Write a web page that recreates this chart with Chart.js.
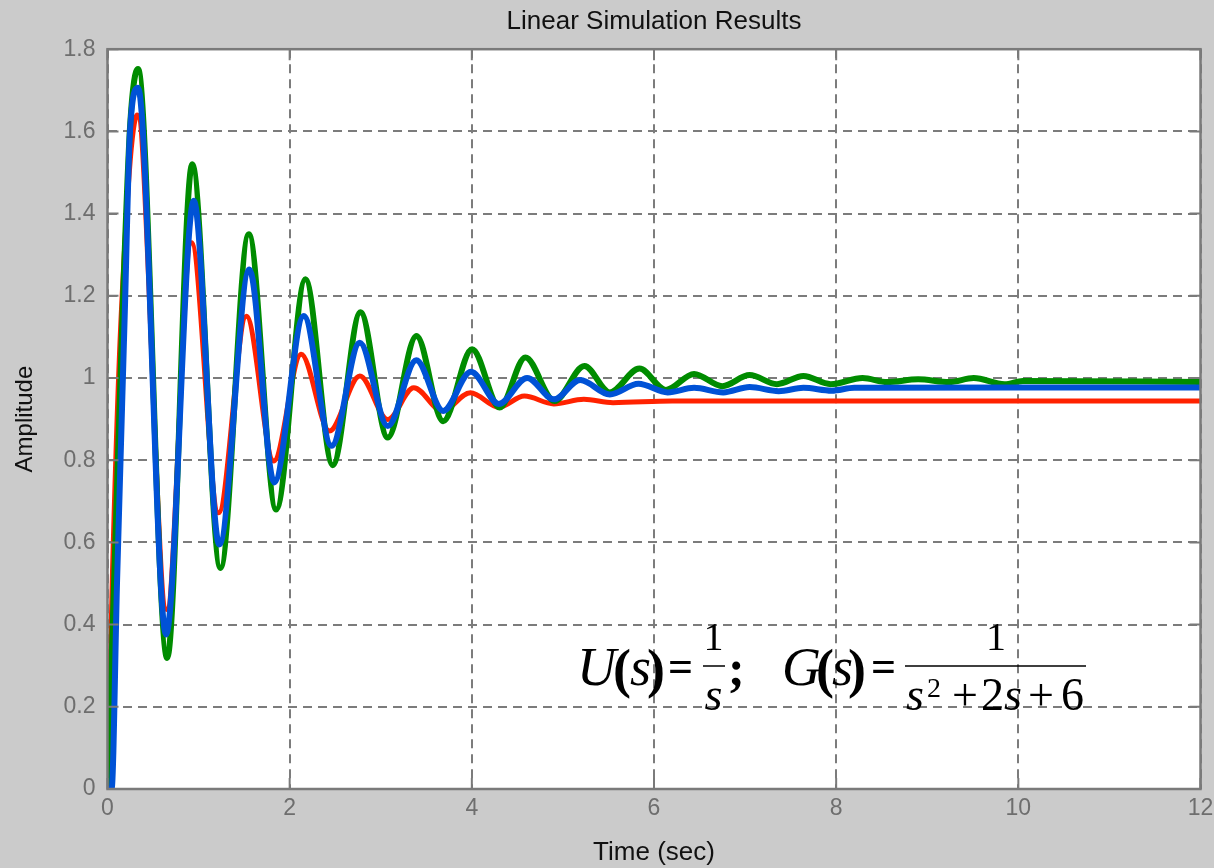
<!DOCTYPE html>
<html><head><meta charset="utf-8">
<script src="https://cdn.jsdelivr.net/npm/chart.js@4.4.1/dist/chart.umd.min.js"></script>
<style>html,body{margin:0;padding:0;background:#cbcbcb;overflow:hidden}</style>
</head><body>
<canvas id="c" width="1214" height="868"></canvas>
<script>
// ---- text ----
const chartTitle = 'Linear Simulation Results';
const xAxisTitle = 'Time (sec)';
const yAxisTitle = 'Amplitude';
const xTickLabels = ['0','2','4','6','8','10','12'];
const yTickLabels = ['0','0.2','0.4','0.6','0.8','1','1.2','1.4','1.6','1.8'];

// ---- series (time in sec, amplitude) ----
const redTime = [0, 0.055, 0.152, 0.327, 0.65, 0.922, 1.22, 1.525, 1.825, 2.126, 2.437, 2.77, 3.077, 3.363, 3.674, 3.985, 4.296, 4.577, 4.9, 5.23, 5.55, 6.2, 8, 10, 12];
const redAmp  = [0, 0.53, 1.16, 1.64, 0.437, 1.329, 0.672, 1.15, 0.798, 1.058, 0.871, 1.005, 0.899, 0.976, 0.92, 0.964, 0.929, 0.956, 0.937, 0.948, 0.940, 0.944, 0.944, 0.944, 0.944];

const greenTime = [0, 0.08, 0.17, 0.25, 0.335, 0.655, 0.93, 1.24, 1.551, 1.852, 2.173, 2.473, 2.777, 3.077, 3.392, 3.685, 4.003, 4.306, 4.588, 4.907, 5.236, 5.514, 5.84, 6.13, 6.44, 6.75, 7.05, 7.35, 7.64, 7.94, 8.29, 8.56, 8.9, 9.24, 9.51, 9.85, 10.05, 12];
const greenAmp  = [0, 0.557, 1.19, 1.62, 1.752, 0.319, 1.52, 0.538, 1.35, 0.68, 1.24, 0.788, 1.16, 0.855, 1.102, 0.895, 1.07, 0.928, 1.05, 0.944, 1.029, 0.965, 1.023, 0.971, 1.01, 0.98, 1.007, 0.985, 1.005, 0.985, 1.0, 0.99, 0.997, 0.99, 1.0, 0.985, 0.993, 0.99];

const blueTime = [0, 0.045, 0.105, 0.19, 0.247, 0.335, 0.643, 0.947, 1.227, 1.558, 1.83, 2.155, 2.46, 2.77, 3.077, 3.39, 3.685, 3.99, 4.296, 4.607, 4.9, 5.19, 5.514, 5.83, 6.15, 6.44, 6.76, 7.05, 7.37, 7.64, 7.95, 8.2, 10, 12];
const blueAmp  = [0, 0, 0.506, 1.16, 1.6, 1.706, 0.376, 1.431, 0.595, 1.264, 0.746, 1.151, 0.835, 1.086, 0.883, 1.043, 0.92, 1.015, 0.937, 1.0, 0.948, 0.995, 0.96, 0.986, 0.965, 0.976, 0.965, 0.978, 0.968, 0.976, 0.969, 0.976, 0.977, 0.977];

const toPts = (t, v) => t.map((x, i) => ({x: x, y: v[i]}));

const GRID = '#7c7c7c';
const FRAME = '#7a7a7a';

const decor = {
  id: 'decor',
  beforeDraw(chart) {
    const {ctx, chartArea: a} = chart;
    ctx.save();
    ctx.fillStyle = '#cbcbcb';
    ctx.fillRect(0, 0, chart.width, chart.height);
    ctx.fillStyle = '#ffffff';
    ctx.fillRect(a.left, a.top, a.right - a.left, a.bottom - a.top);
    ctx.restore();
  },
  afterDatasetsDraw(chart) {
    const {ctx, chartArea: a, scales} = chart;
    ctx.save();
    ctx.strokeStyle = FRAME;
    ctx.lineWidth = 2;
    ctx.beginPath();
    const L = 11;
    scales.x.ticks.forEach(t => {
      const px = scales.x.getPixelForValue(t.value);
      ctx.moveTo(px, a.top); ctx.lineTo(px, a.top + L);
      ctx.moveTo(px, a.bottom); ctx.lineTo(px, a.bottom - L);
    });
    scales.y.ticks.forEach(t => {
      const py = scales.y.getPixelForValue(t.value);
      ctx.moveTo(a.left, py); ctx.lineTo(a.left + L, py);
      ctx.moveTo(a.right, py); ctx.lineTo(a.right - L, py);
    });
    ctx.stroke();
    ctx.lineWidth = 2.5;
    ctx.strokeRect(a.left, a.top, a.right - a.left, a.bottom - a.top);
    ctx.restore();
  },
  afterDraw(chart) {
    const ctx = chart.ctx;
    ctx.save();
    ctx.fillStyle = '#000';
    ctx.textBaseline = 'alphabetic';
    const F = 'Liberation Serif, Times New Roman, serif';
    const put = (txt, x, y, font, align) => {
      ctx.font = font; ctx.textAlign = align || 'left'; ctx.fillText(txt, x, y);
    };
    // U(s) = 1/s ;
    put('U', 577, 685, 'italic 54px ' + F);
    put('(', 613, 687, 'bold 54px ' + F);
    put('s', 630, 685, 'italic 54px ' + F);
    put(')', 647, 687, 'bold 54px ' + F);
    put('=', 668, 681, 'bold 44px ' + F);
    put('1', 713.5, 650, '40px ' + F, 'center');
    put('s', 713.5, 710, 'italic 46px ' + F, 'center');
    put(';', 728, 685, 'bold 50px ' + F);
    // G(s) = 1/(s^2+2s+6)
    put('G', 782, 685, 'italic 54px ' + F);
    put('(', 816, 687, 'bold 54px ' + F);
    put('s', 832, 685, 'italic 54px ' + F);
    put(')', 848, 687, 'bold 54px ' + F);
    put('=', 871, 681, 'bold 44px ' + F);
    put('1', 996, 650, '40px ' + F, 'center');
    put('s', 906, 710, 'italic 46px ' + F);
    put('2', 927, 697, '28px ' + F);
    put('+', 952, 710, '46px ' + F);
    put('2', 981, 710, '46px ' + F);
    put('s', 1004, 710, 'italic 46px ' + F);
    put('+', 1028, 710, '46px ' + F);
    put('6', 1061, 710, '46px ' + F);
    ctx.strokeStyle = '#000';
    ctx.lineWidth = 1.6;
    ctx.beginPath();
    ctx.moveTo(703, 666); ctx.lineTo(725, 666);
    ctx.moveTo(905, 666); ctx.lineTo(1086, 666);
    ctx.stroke();
    ctx.restore();
  }
};

const findLabel = (arr, v) => {
  const s = arr.find(l => Math.abs(parseFloat(l) - v) < 1e-6);
  return s === undefined ? '' : s;
};

new Chart(document.getElementById('c'), {
  type: 'line',
  data: {
    datasets: [
      {label: 'blue', data: toPts(blueTime, blueAmp), borderColor: '#0052d6', borderWidth: 6, order: 1},
      {label: 'green', data: toPts(greenTime, greenAmp), borderColor: '#008c00', borderWidth: 6, order: 2},
      {label: 'red', data: toPts(redTime, redAmp), borderColor: '#ff2200', borderWidth: 5, order: 3}
    ]
  },
  options: {
    responsive: false,
    animation: false,
    events: [],
    elements: {
      point: {radius: 0},
      line: {cubicInterpolationMode: 'monotone', fill: false, borderCapStyle: 'round', borderJoinStyle: 'round'}
    },
    layout: {padding: {top: 0, right: 13.5, bottom: 0, left: 0}},
    plugins: {
      legend: {display: false},
      tooltip: {enabled: false},
      title: {
        display: true, text: chartTitle, fullSize: false, color: '#111',
        font: {family: 'Liberation Sans, Arial, sans-serif', size: 26, weight: 'normal', lineHeight: 1.2},
        padding: {top: 6, bottom: 12}
      }
    },
    scales: {
      x: {
        type: 'linear', min: 0, max: 12,
        afterFit(s) { s.height = 79; s.paddingRight = 0; s.paddingLeft = 0; },
        grid: {color: GRID, lineWidth: 2, drawTicks: false},
        border: {display: false, dash: [9, 6]},
        ticks: {stepSize: 2, padding: 6, color: '#6e6e6e', maxRotation: 0, autoSkip: false,
          font: {family: 'Liberation Sans, Arial, sans-serif', size: 23},
          callback: v => findLabel(xTickLabels, v)},
        title: {display: true, text: xAxisTitle, color: '#111', padding: {top: 0, bottom: 0},
          font: {family: 'Liberation Sans, Arial, sans-serif', size: 26, lineHeight: 1.2}}
      },
      y: {
        type: 'linear', min: 0, max: 1.8,
        afterFit(s) { s.width = 107.5; },
        grid: {color: GRID, lineWidth: 2, drawTicks: false},
        border: {display: false, dash: [9, 6]},
        ticks: {stepSize: 0.2, padding: 12, color: '#6e6e6e', autoSkip: false,
          font: {family: 'Liberation Sans, Arial, sans-serif', size: 23},
          callback: v => findLabel(yTickLabels, v)},
        title: {display: true, text: yAxisTitle, color: '#111', padding: {top: 11, bottom: 0},
          font: {family: 'Liberation Sans, Arial, sans-serif', size: 24, lineHeight: 1.2}}
      }
    }
  },
  plugins: [decor]
});
</script>
</body></html>
